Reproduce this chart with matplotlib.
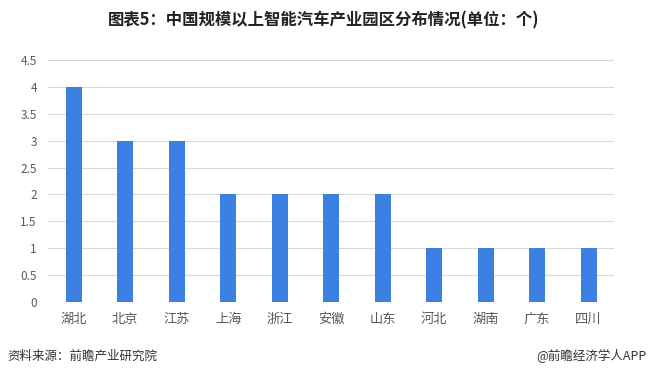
import matplotlib
matplotlib.use('Agg')
import matplotlib.pyplot as plt
import numpy as np

plt.rcParams['font.family'] = ['Noto Sans CJK SC', 'DejaVu Sans']

provinces = ['湖北', '北京', '江苏', '上海', '浙江', '安徽', '山东', '河北', '湖南', '广东', '四川']
counts = [4, 3, 3, 2, 2, 2, 2, 1, 1, 1, 1]
yticks = [0, 0.5, 1, 1.5, 2, 2.5, 3, 3.5, 4, 4.5]

fig = plt.figure(figsize=(6.48, 3.79), dpi=100)
ax = fig.add_axes([0.074, 0.203, 0.874, 0.639])

x = np.arange(len(provinces))
ax.bar(x, counts, width=0.31, color='#3b80e2', zorder=3)

ax.set_xlim(-0.5, len(provinces) - 0.5)
ax.set_ylim(0, 4.5)
ax.set_yticks(yticks)
ax.set_yticklabels([f'{v:g}' for v in yticks])
ax.set_xticks(x)
ax.set_xticklabels(provinces)
ax.grid(True, axis='y', color='#d9d9d9', linewidth=0.8, zorder=0)
for s in ax.spines.values():
    s.set_visible(False)
ax.tick_params(axis='both', length=0, colors='#595959', labelsize=8.5)
ax.tick_params(axis='x', pad=8, labelsize=9.5)
ax.tick_params(axis='y', pad=8)

fig.text(0.5, 0.947, '图表5：中国规模以上智能汽车产业园区分布情况(单位：个)',
         ha='center', va='center', fontsize=11.8, fontweight='bold', color='#222222')
fig.text(0.012, 0.06, '资料来源：前瞻产业研究院', ha='left', va='center',
         fontsize=9, color='#333333')
fig.text(0.998, 0.06, '@前瞻经济学人APP', ha='right', va='center',
         fontsize=9, color='#333333')

fig.savefig('out.png', dpi=100)
